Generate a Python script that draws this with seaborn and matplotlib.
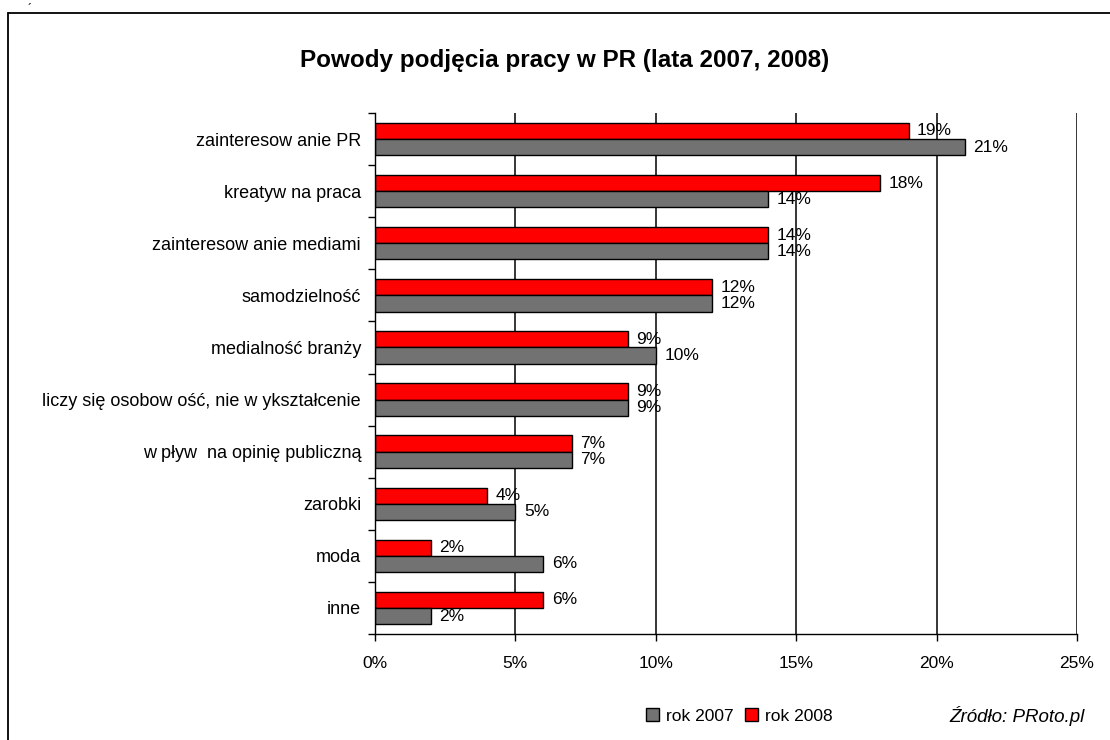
import matplotlib
matplotlib.use("Agg")
import matplotlib.pyplot as plt
import seaborn as sns
import pandas as pd
import numpy as np
from matplotlib.patches import Patch
from matplotlib.lines import Line2D

categories = [
    "zainteresow anie PR",
    "kreatyw na praca",
    "zainteresow anie mediami",
    "samodzielność",
    "medialność branży",
    "liczy się osobow ość, nie w ykształcenie",
    "w pływ  na opinię publiczną",
    "zarobki",
    "moda",
    "inne",
]
values_2008 = [19, 18, 14, 12, 9, 9, 7, 4, 2, 6]
values_2007 = [21, 14, 14, 12, 10, 9, 7, 5, 6, 2]
series_names = ["rok 2008", "rok 2007"]
x_ticks = [0, 5, 10, 15, 20, 25]

sns.set_theme(style="white")
plt.rcParams["font.family"] = ["Liberation Sans", "DejaVu Sans"]
for k in ["text.color", "axes.labelcolor", "xtick.color", "ytick.color"]:
    plt.rcParams[k] = "black"

df = pd.DataFrame({
    "kategoria": categories * 2,
    "wartosc": values_2008 + values_2007,
    "rok": [series_names[0]] * len(categories) + [series_names[1]] * len(categories),
})

W, H = 1110, 740
fig = plt.figure(figsize=(W / 100, H / 100), dpi=100)
ax = fig.add_axes([375 / W, 1 - 634 / H, (1077 - 375) / W, (634 - 113) / H])

palette = {"rok 2008": "#FF0000", "rok 2007": "#727272"}
sns.barplot(data=df, y="kategoria", x="wartosc", hue="rok", hue_order=series_names,
            order=categories, palette=palette, orient="h", width=0.62,
            edgecolor="black", linewidth=1.0, saturation=1, ax=ax, legend=False)

ax.set_xlim(0, 25)
ax.set_ylim(len(categories) - 0.5, -0.5)
ax.set_xticks(x_ticks)
ax.set_xticklabels([f"{t}%" for t in x_ticks], fontsize=12.5)
ax.set_yticks(range(len(categories)))
ax.set_yticklabels(categories, fontsize=13)
ax.set_yticks(np.arange(-0.5, len(categories), 1.0), minor=True)
ax.tick_params(axis="y", which="major", length=0, pad=10)
ax.tick_params(axis="y", which="minor", length=5, width=1, direction="out", left=True, color="black")
ax.tick_params(axis="x", which="major", length=5, width=1, direction="out", bottom=True, color="black", pad=11)
ax.set_xlabel("")
ax.set_ylabel("")

for s in ["top", "right"]:
    ax.spines[s].set_visible(False)
for s in ["left", "bottom"]:
    ax.spines[s].set_color("black")
    ax.spines[s].set_linewidth(1.0)

for t in x_ticks[1:]:
    ax.axvline(t, color="black", linewidth=1.1, zorder=0)

for cont in ax.containers:
    for bar in cont:
        w = bar.get_width()
        y = bar.get_y() + bar.get_height() / 2
        ax.text(w + 0.3, y, f"{int(round(w))}%", va="center", ha="left", fontsize=12.5, color="black")

fig.text(565 / W, 1 - 60 / H, "Powody podjęcia pracy w PR (lata 2007, 2008)",
         ha="center", va="center", fontsize=17.5, fontweight="bold")

handles = [Patch(facecolor="#727272", edgecolor="black", label="rok 2007"),
           Patch(facecolor="#FF0000", edgecolor="black", label="rok 2008")]
fig.legend(handles=handles, loc="center left", bbox_to_anchor=(630 / W, 1 - 716 / H),
           ncol=2, frameon=False, fontsize=12.5, handlelength=0.75, handleheight=0.75,
           handletextpad=0.4, columnspacing=0.7)

fig.text(1085 / W, 1 - 716 / H, "Źródło: PRoto.pl", ha="right", va="center",
         fontsize=13.5, fontstyle="italic")

fig.text(30 / W, 1 - 10 / H, "´", ha="center", va="center", fontsize=9)

# outer frame
fig.add_artist(Line2D([8 / W, 8 / W], [0, 1 - 13 / H], transform=fig.transFigure,
                      color="black", linewidth=1.3))
fig.add_artist(Line2D([8 / W, 1], [1 - 13 / H, 1 - 13 / H], transform=fig.transFigure,
                      color="black", linewidth=1.3))

fig.savefig("out.png", dpi=100)
